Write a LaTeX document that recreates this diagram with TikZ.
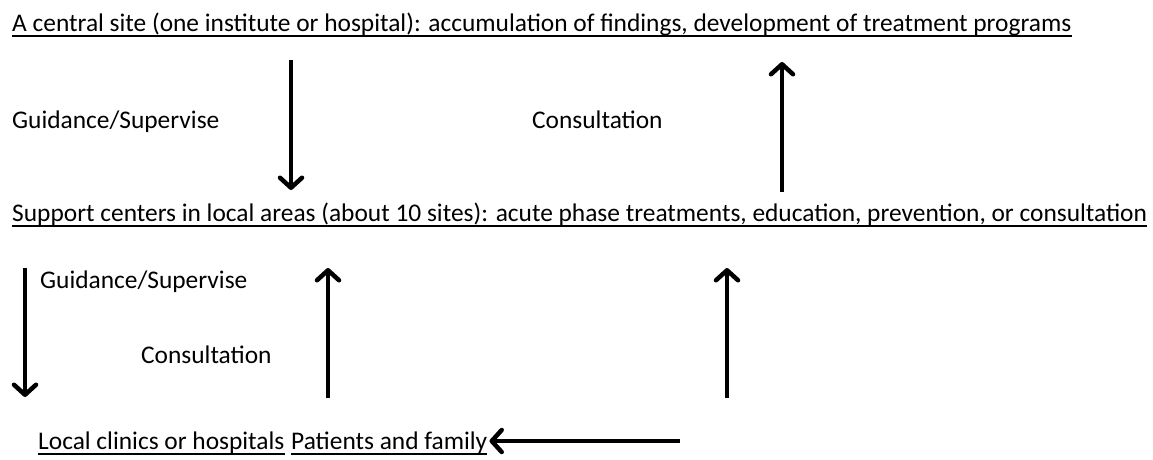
\documentclass[tikz,border=0pt]{standalone}
\usepackage{fontspec}
\setmainfont{Carlito}
\usetikzlibrary{arrows.meta}
\begin{document}
\begin{tikzpicture}[x=1pt,y=-1pt,
  every node/.style={inner sep=0pt, anchor=base west, font=\fontsize{25.4}{30}\selectfont},
  arr/.style={line width=4.5pt, -{Straight Barb[length=10pt,width=22pt,round]}},
  uline/.style={line width=2pt}]
\useasboundingbox (0,0) rectangle (1153,459);
% levels
\node (lvl0) at (12,31){A central site (one institute or hospital): accumulation of findings, development of treatment programs};
\draw[uline] ([yshift=-5pt]lvl0.base west) -- ([yshift=-5pt]lvl0.base east);
\node (lvl1) at (12,221){Support centers in local areas (about 10 sites): acute phase treatments, education, prevention, or consultation};
\draw[uline] ([yshift=-5pt]lvl1.base west) -- ([yshift=-5pt]lvl1.base east);
\node (lvl2a) at (38,449){Local clinics or hospitals};
\draw[uline] ([yshift=-5pt]lvl2a.base west) -- ([yshift=-5pt]lvl2a.base east);
\node (lvl2b) at (291,449){Patients and family};
\draw[uline] ([yshift=-5pt]lvl2b.base west) -- ([yshift=-5pt]lvl2b.base east);
% labels
\node (gs0) at (12,128){Guidance/Supervise};
\node (cs0) at (532,128){Consultation};
\node (gs1) at (40,288){Guidance/Supervise};
\node (cs1) at (141,363){Consultation};
% arrows
\coordinate (a0s) at (291,60);
\coordinate (a0e) at (291,190);
\draw[arr](a0s) -- (a0e);
\coordinate (a1s) at (782,192);
\coordinate (a1e) at (782,62);
\draw[arr](a1s) -- (a1e);
\coordinate (a2s) at (25,268);
\coordinate (a2e) at (25,397);
\draw[arr](a2s) -- (a2e);
\coordinate (a3s) at (328,398);
\coordinate (a3e) at (328,268);
\draw[arr](a3s) -- (a3e);
\coordinate (a4s) at (727,398);
\coordinate (a4e) at (727,268);
\draw[arr](a4s) -- (a4e);
\coordinate (a5s) at (680,441);
\draw[arr](a5s) -- ([xshift=2pt]lvl2b.east |- a5s);

\end{tikzpicture}
\end{document}
